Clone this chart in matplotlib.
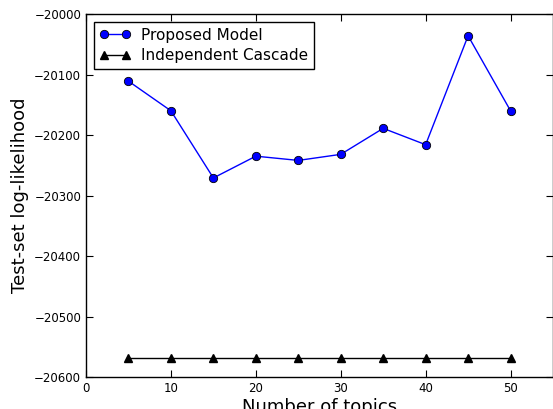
import matplotlib
matplotlib.use("Agg")
import matplotlib.pyplot as plt

topics = [5, 10, 15, 20, 25, 30, 35, 40, 45, 50]
proposed = [-20111, -20160, -20271, -20235, -20242, -20232, -20189, -20216, -20036, -20160]
cascade = [-20569] * 10

plt.rcParams['font.family'] = ['DejaVu Sans']
plt.rcParams['axes.unicode_minus'] = True

fig = plt.figure(figsize=(5.53, 4.09), dpi=100)
ax = fig.add_axes([86/553, 1-377/409, 467/553, 363/409])

ax.plot(topics, proposed, color='#0000ff', lw=1, marker='o', markersize=6,
        markerfacecolor='#0000ff', markeredgecolor='black', markeredgewidth=0.6,
        label='Proposed Model')
ax.plot(topics, cascade, color='black', lw=1, marker='^', markersize=6,
        markerfacecolor='black', markeredgecolor='black', label='Independent Cascade')

ax.set_xlim(0, 55)
ax.set_ylim(-20600, -20000)
ax.set_xticks([0, 10, 20, 30, 40, 50])
ax.set_yticks(range(-20600, -19999, 100))
ax.ticklabel_format(useOffset=False, axis='y')
ax.tick_params(direction='in', top=True, right=True, labelsize=8.5, length=5, width=0.8)
for s in ax.spines.values():
    s.set_linewidth(1.0)

ax.set_xlabel('Number of topics', fontsize=13, labelpad=2)
ax.set_ylabel('Test-set log-likelihood', fontsize=13)

leg = ax.legend(loc='upper left', numpoints=2, fontsize=11, fancybox=False,
                framealpha=1, edgecolor='black', borderaxespad=0.5,
                handlelength=2.0, handletextpad=0.7, labelspacing=0.35)
leg.get_frame().set_linewidth(1.0)

fig.savefig('out.png', dpi=100, facecolor='white')
